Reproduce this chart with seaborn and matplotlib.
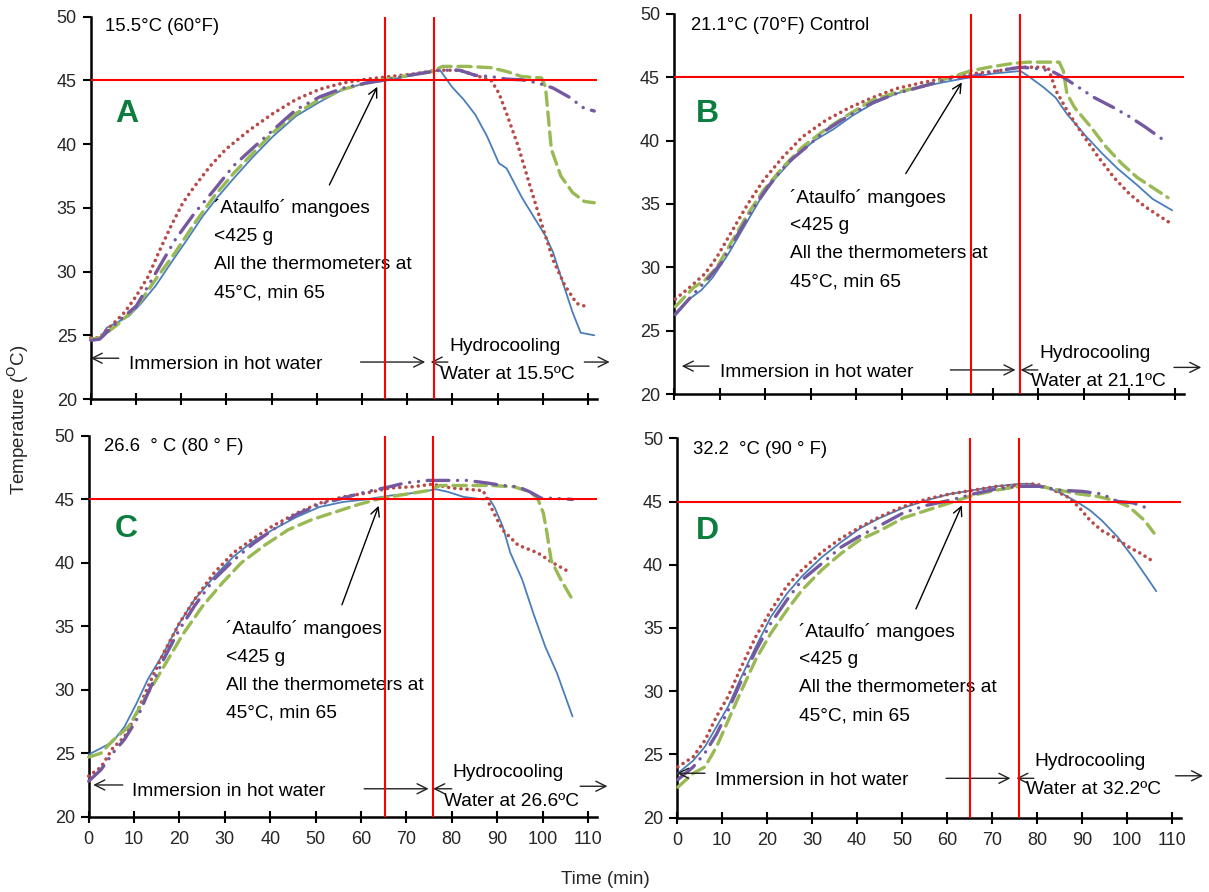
import matplotlib
matplotlib.use("Agg")
import matplotlib.pyplot as plt
import numpy as np
import pandas as pd
import seaborn as sns

# ---------------- data ----------------
A_BLUE_X = [0, 1.9, 3.6, 5.8, 8.4, 10.9, 14.4, 17.8, 21.3, 24.7, 28.2, 31.6, 35.9, 40.3, 45.4, 50.6, 55.8, 61, 65.5, 70.4, 75.6, 77.3, 79.9, 82.5, 85.1, 87.7, 90.3, 92, 95.4, 98, 100.6, 102.3, 104, 106.6, 108.4, 111.4]
A_BLUE_Y = [24.7, 24.7, 25.6, 26.0, 26.5, 27.4, 28.9, 30.7, 32.5, 34.3, 35.9, 37.3, 39.0, 40.6, 42.2, 43.3, 44.3, 44.8, 45.0, 45.35, 45.7, 45.8, 44.5, 43.5, 42.3, 40.6, 38.5, 38.1, 35.8, 34.3, 32.8, 31.5, 29.6, 26.8, 25.2, 25.0]
A_RED_X = [0, 1.9, 4.1, 7.5, 10.1, 12.7, 15.3, 17.8, 20.4, 23, 26.5, 29.9, 35.1, 40.3, 45.4, 50.6, 55.8, 61, 66.1, 71.3, 76.5, 81.6, 85.1, 88.6, 90.3, 92, 94.6, 97.2, 99.7, 102.3, 104.9, 107.5, 110]
A_RED_Y = [24.8, 24.8, 25.6, 26.8, 28.1, 29.6, 31.7, 33.6, 35.4, 36.7, 38.3, 39.6, 41.1, 42.4, 43.5, 44.3, 44.8, 45.1, 45.3, 45.5, 45.8, 45.8, 45.4, 45.0, 44.0, 42.4, 39.8, 36.7, 33.8, 30.9, 28.9, 27.5, 27.2]
A_GREEN_X = [0, 2, 5.8, 10.1, 14.4, 18.7, 23, 27.3, 31.6, 35.9, 40.3, 45.4, 50.6, 55.8, 61, 65.5, 70.4, 75.6, 77.8, 83.4, 88.5, 92, 95.4, 99.7, 100.6, 101, 101.9, 104, 106.6, 109.2, 111.4]
A_GREEN_Y = [24.7, 24.8, 25.8, 27.2, 29.4, 31.5, 33.8, 35.9, 37.7, 39.3, 40.9, 42.4, 43.5, 44.3, 44.8, 45.1, 45.4, 45.7, 46.1, 46.1, 46.0, 45.7, 45.3, 45.2, 44.5, 43.0, 39.6, 37.5, 36.2, 35.5, 35.4]
A_PURPLE_X = [0, 2, 5.8, 10.1, 14.4, 18.7, 23, 27.3, 31.6, 35.9, 40.3, 45.4, 50.6, 55.8, 61, 65.5, 70.4, 75.6, 77.3, 81.6, 85.1, 88.6, 92, 95.4, 98.9, 102.3, 105.8, 109.2, 111.4]
A_PURPLE_Y = [24.6, 24.7, 26.0, 27.3, 29.9, 32.5, 34.6, 36.4, 38.3, 39.7, 41.1, 42.7, 43.7, 44.4, 44.8, 45.05, 45.4, 45.7, 45.8, 45.8, 45.4, 45.3, 45.1, 45.05, 44.8, 44.4, 43.7, 42.8, 42.6]

B_BLUE_X = [0.3, 3.4, 6, 8.5, 12, 15.4, 18.8, 22.2, 26.5, 30.8, 35, 39.3, 43.6, 48.7, 53.8, 59, 65, 70.1, 76.1, 77.8, 81.2, 83.8, 86.3, 90.6, 94, 97.4, 101.7, 105.1, 109.4]
B_BLUE_Y = [26.2, 27.5, 28.2, 29.2, 31.1, 33.2, 35.3, 37.0, 38.7, 40.0, 40.9, 42.0, 42.9, 43.7, 44.2, 44.6, 45.0, 45.3, 45.5, 45.1, 44.2, 43.4, 42.1, 40.3, 39.0, 37.8, 36.5, 35.4, 34.5]
B_RED_X = [0.3, 3.4, 6.8, 9.4, 12.8, 16.2, 19.7, 23.9, 28.2, 33.3, 38.5, 43.6, 48.7, 54.7, 60.7, 65.8, 70.9, 76.1, 82.1, 83, 83.8, 86.3, 89.7, 93.2, 96.6, 100, 103.4, 106.8, 109.4]
B_RED_Y = [27.5, 28.4, 29.5, 30.8, 32.9, 35.0, 36.9, 38.7, 40.3, 41.6, 42.6, 43.4, 44.1, 44.6, 45.0, 45.3, 45.5, 45.8, 45.8, 44.9, 44.0, 42.4, 40.5, 38.7, 37.1, 35.8, 34.8, 34.0, 33.4]
B_GREEN_X = [0.3, 4.3, 6.8, 9.4, 12.8, 16.2, 19.7, 23.9, 28.2, 33.3, 38.5, 43.6, 48.7, 54.7, 60.7, 65, 69.2, 74.4, 77.8, 84.6, 85.5, 86.3, 88, 91.5, 94.9, 98.3, 101.7, 105.1, 108.5]
B_GREEN_Y = [26.9, 28.4, 29.0, 30.0, 32.1, 34.2, 36.1, 37.9, 39.5, 40.9, 42.1, 43.2, 43.8, 44.3, 45.0, 45.5, 45.8, 46.1, 46.2, 46.2, 45.5, 43.7, 42.6, 41.1, 39.5, 38.2, 37.1, 36.3, 35.5]
B_PURPLE_X = [0.3, 4.3, 7.7, 10.3, 13.7, 17.1, 20.5, 24.8, 29.1, 33.3, 38.5, 43.6, 48.7, 54.7, 60.7, 65.8, 70.9, 76.1, 79.5, 82.9, 85.5, 88.9, 92.3, 96.6, 100, 103.4, 107.7]
B_PURPLE_Y = [26.3, 27.9, 29.2, 30.3, 32.4, 34.5, 36.3, 38.2, 39.5, 40.8, 42.0, 43.0, 43.7, 44.3, 44.9, 45.1, 45.5, 45.8, 45.7, 45.5, 45.0, 44.2, 43.4, 42.6, 41.9, 41.1, 40.0]

C_BLUE_X = [0, 2.7, 5.3, 7.9, 10.5, 13, 16.5, 19.9, 23.3, 27.6, 31.9, 36.2, 40.5, 45.7, 50.8, 56, 61.1, 66.3, 71.4, 76.6, 79.1, 82.6, 86.9, 88.2, 89.4, 91.2, 92.9, 95.5, 98, 100.6, 103.2, 106.6]
C_BLUE_Y = [24.9, 25.4, 25.9, 27.1, 28.9, 30.8, 32.9, 35.2, 37.1, 38.9, 40.5, 41.7, 42.6, 43.6, 44.4, 44.8, 45.0, 45.3, 45.5, 45.8, 45.6, 45.2, 45.0, 45.1, 44.4, 42.9, 40.8, 38.7, 36.0, 33.4, 31.3, 27.9]
C_RED_X = [0, 2.7, 5.3, 7.9, 10.5, 13, 16.5, 19.9, 23.3, 27.6, 31.9, 36.2, 40.5, 45.7, 50.8, 56, 61.1, 66.3, 71.4, 75.7, 80, 83.4, 86.9, 88.6, 91.2, 94.6, 98.9, 102.3, 105.8]
C_RED_Y = [23.2, 23.9, 25.4, 26.3, 28.1, 30.2, 32.9, 35.2, 37.1, 39.2, 40.8, 41.9, 42.9, 43.9, 44.7, 45.2, 45.5, 45.9, 46.0, 46.2, 45.9, 45.8, 45.7, 44.4, 42.6, 41.4, 40.8, 40.0, 39.3]
C_GREEN_X = [0, 2.7, 5.3, 8.8, 12.2, 16.5, 20.8, 25.1, 29.4, 33.6, 38.8, 43.9, 49.1, 54.2, 59.4, 64.5, 69.7, 74.8, 77.4, 83.4, 88.6, 93.7, 97.2, 98.9, 100.2, 101, 101.9, 104, 106.6]
C_GREEN_Y = [24.7, 25.0, 26.0, 27.1, 29.2, 31.8, 34.4, 36.6, 38.4, 40.0, 41.4, 42.6, 43.4, 44.0, 44.6, 45.1, 45.4, 45.7, 46.1, 46.1, 46.1, 46.0, 45.6, 45.1, 43.9, 42.3, 40.2, 38.7, 37.1]
C_PURPLE_X = [0, 2.7, 5.3, 7.9, 10.5, 13, 16.5, 19.9, 23.3, 27.6, 31.9, 36.2, 40.5, 45.7, 50.8, 56, 61.1, 66.3, 69.7, 74.8, 80, 83.4, 87.7, 91.2, 94.6, 97.2, 99.7, 102.3, 106.6]
C_PURPLE_Y = [22.8, 23.7, 25.0, 26.1, 27.6, 29.7, 32.4, 34.7, 36.6, 38.7, 40.2, 41.5, 42.6, 43.8, 44.6, 45.1, 45.6, 46.0, 46.3, 46.5, 46.5, 46.5, 46.3, 46.1, 46.0, 45.6, 45.1, 45.1, 45.0]

D_BLUE_X = [0.2, 3.6, 6.2, 8.8, 11.4, 14, 17.5, 20.9, 24.4, 27.8, 32.2, 36.5, 40.8, 45.1, 50.3, 55.5, 60.7, 65.9, 71, 76.2, 78.8, 82.3, 85.7, 89.2, 91.8, 94.4, 97.9, 101.3, 104.8, 106.5]
D_BLUE_Y = [23.5, 24.5, 25.6, 27.2, 28.8, 30.9, 33.5, 35.9, 37.7, 39.1, 40.6, 41.8, 42.9, 43.7, 44.5, 45.1, 45.6, 45.9, 46.2, 46.4, 46.4, 46.1, 45.6, 44.9, 44.3, 43.5, 42.2, 40.6, 38.8, 37.9]
D_RED_X = [0.2, 3.6, 6.2, 8.8, 11.4, 14, 17.5, 20.9, 24.4, 27.8, 32.2, 36.5, 40.8, 45.1, 50.3, 55.5, 60.7, 65.9, 71, 76.2, 79.7, 83.1, 86.6, 89.2, 91.8, 94.4, 97, 100.4, 103, 105.2]
D_RED_Y = [24.0, 24.8, 26.1, 28.0, 29.6, 31.7, 34.3, 36.4, 38.3, 39.6, 41.0, 42.1, 43.0, 43.8, 44.6, 45.2, 45.6, 45.9, 46.2, 46.3, 46.4, 46.0, 45.4, 44.6, 43.5, 42.7, 42.2, 41.4, 40.9, 40.4]
D_GREEN_X = [0.2, 3.6, 6.2, 8.8, 11.4, 14, 17.5, 20.9, 24.4, 27.8, 32.2, 36.5, 40.8, 45.1, 50.3, 55.5, 60.7, 65.9, 71, 76.2, 80.6, 84.9, 89.2, 93.5, 97, 100.4, 103.9, 106]
D_GREEN_Y = [22.4, 23.5, 24.0, 25.6, 27.7, 29.8, 32.5, 34.6, 36.4, 38.0, 39.6, 40.9, 42.0, 42.7, 43.7, 44.3, 44.9, 45.5, 45.9, 46.2, 46.2, 45.9, 45.6, 45.4, 45.1, 44.6, 43.5, 42.5]
D_PURPLE_X = [0.2, 3.6, 6.2, 8.8, 11.4, 14, 17.5, 20.9, 24.4, 27.8, 32.2, 36.5, 40.8, 45.1, 50.3, 55.5, 60.7, 65.9, 71, 76.2, 80.6, 84.9, 90, 94.4, 97.9, 101.3, 104.3]
D_PURPLE_Y = [23.0, 24.0, 25.1, 26.6, 28.5, 30.6, 33.2, 35.4, 37.2, 38.8, 40.1, 41.4, 42.3, 43.1, 44.1, 44.7, 45.1, 45.6, 46.0, 46.2, 46.2, 45.9, 45.8, 45.6, 45.0, 44.9, 44.5]

PANEL_LETTERS = ["A", "B", "C", "D"]
PANEL_TITLES = ["15.5°C (60°F)", "21.1°C (70°F) Control", "26.6  ° C (80 ° F)", "32.2  °C (90 ° F)"]
WATER_LABELS = ["Water at 15.5ºC", "Water at 21.1ºC", "Water at 26.6ºC", "Water at 32.2ºC"]
NOTE_LINES = ["´Ataulfo´ mangoes", "<425 g", "All the thermometers at", "45°C, min 65"]
X_TICKS = [0, 10, 20, 30, 40, 50, 60, 70, 80, 90, 100, 110]
Y_TICKS = [20, 25, 30, 35, 40, 45, 50]
REF_TEMP = 45
REF_TIMES = [65.2, 75.9]

# ---------------- styling ----------------
sns.set_theme(style="white")
plt.rcParams['font.family'] = ['Liberation Sans', 'DejaVu Sans']

SERIES_STYLE = {
    "blue":   dict(color="#4A7EBB", lw=1.3, ls="-"),
    "red":    dict(color="#B84A47", lw=2.6, ls=(0, (0.01, 1.7))),
    "green":  dict(color="#98B954", lw=2.4, ls=(0, (4.0, 2.0))),
    "purple": dict(color="#7459A0", lw=2.4, ls=(0, (6.5, 2.6, 0.05, 2.6, 0.05, 2.6))),
}

panel_series = {
    "A": {"blue": (A_BLUE_X, A_BLUE_Y), "red": (A_RED_X, A_RED_Y), "green": (A_GREEN_X, A_GREEN_Y), "purple": (A_PURPLE_X, A_PURPLE_Y)},
    "B": {"blue": (B_BLUE_X, B_BLUE_Y), "red": (B_RED_X, B_RED_Y), "green": (B_GREEN_X, B_GREEN_Y), "purple": (B_PURPLE_X, B_PURPLE_Y)},
    "C": {"blue": (C_BLUE_X, C_BLUE_Y), "red": (C_RED_X, C_RED_Y), "green": (C_GREEN_X, C_GREEN_Y), "purple": (C_PURPLE_X, C_PURPLE_Y)},
    "D": {"blue": (D_BLUE_X, D_BLUE_Y), "red": (D_RED_X, D_RED_Y), "green": (D_GREEN_X, D_GREEN_Y), "purple": (D_PURPLE_X, D_PURPLE_Y)},
}

W, H = 1209, 892
# axes boxes in pixels: left, top, right(x=112), bottom(y=20)
BOXES = {
    "A": (90.7, 16.7, 597, 399),
    "B": (674, 14.0, 1184, 394),
    "C": (88.7, 436, 597, 816.7),
    "D": (677, 438.3, 1181, 817.5),
}
# per-panel annotation layout (data coords)
LAYOUT = {
    "A": dict(title=(3.2, 49.2), letter=(7.9, 42.4), note=(27.2, 35.0), arrow=((52.8, 36.8), (63.4, 44.5)),
              imm=(8.4, 22.7), larr=((6.2, 23.2), (0, 23.2)), rarr=((59.7, 22.9), (74.0, 22.9)),
              harr=((79.0, 22.9), (75.2, 22.9)), hydro=(79.3, 24.15), water=(77.3, 21.9), farr=((109.2, 22.9), (114.8, 22.9))),
    "B": dict(title=(3.8, 49.1), letter=(7.3, 42.1), note=(25.4, 35.5), arrow=((50.9, 37.4), (63.2, 44.6)),
              imm=(10.0, 21.7), larr=((7.7, 22.2), (1.7, 22.2)), rarr=((60.7, 21.9), (75.0, 21.9)),
              harr=((79.9, 21.9), (76.1, 21.9)), hydro=(80.3, 23.2), water=(78.5, 21.0), farr=((109.8, 22.1), (115.8, 22.1))),
    "C": dict(title=(3.4, 49.2), letter=(8.3, 42.7), note=(30.2, 34.8), arrow=((55.8, 36.7), (63.9, 44.5)),
              imm=(9.6, 22.0), larr=((7.5, 22.5), (1.0, 22.5)), rarr=((60.7, 22.2), (74.9, 22.2)),
              harr=((80.0, 22.2), (75.9, 22.2)), hydro=(80.2, 23.5), water=(78.3, 21.2), farr=((108.3, 22.4), (114.3, 22.4))),
    "D": dict(title=(3.5, 49.1), letter=(6.7, 42.7), note=(27.1, 34.7), arrow=((53.1, 36.5), (63.3, 44.7)),
              imm=(8.4, 22.9), larr=((6.2, 23.5), (0, 23.5)), rarr=((59.8, 23.1), (74.1, 23.1)),
              harr=((79.3, 23.1), (75.4, 23.1)), hydro=(79.5, 24.4), water=(77.5, 22.2), farr=((110.8, 23.3), (116.9, 23.3))),
}

FS = 13.8
fig = plt.figure(figsize=(W / 100, H / 100), dpi=100)

for i, key in enumerate(PANEL_LETTERS):
    l, t, r, b = BOXES[key]
    ax = fig.add_axes([l / W, 1 - b / H, (r - l) / W, (b - t) / H])
    ax.set_facecolor("white")
    for name in ["blue", "red", "green", "purple"]:
        xs, ys = panel_series[key][name]
        st = SERIES_STYLE[name]
        df = pd.DataFrame({"x": xs, "y": ys})
        sns.lineplot(data=df, x="x", y="y", ax=ax, color=st["color"], linewidth=st["lw"],
                     linestyle=st["ls"], sort=False, estimator=None, zorder=3,
                     dash_capstyle="round", solid_capstyle="round", clip_on=False)
    ax.axhline(REF_TEMP, color="#FF0000", lw=1.5, zorder=4)
    for tv in REF_TIMES:
        ax.axvline(tv, color="#FF0000", lw=1.5, zorder=4)

    ax.set_xlim(0, 112)
    ax.set_ylim(20, 50)
    ax.set_xticks(X_TICKS)
    ax.set_yticks(Y_TICKS)
    ax.set_xlabel("")
    ax.set_ylabel("")
    for s in ["top", "right"]:
        ax.spines[s].set_visible(False)
    for s in ["left", "bottom"]:
        ax.spines[s].set_color("black")
        ax.spines[s].set_linewidth(1.8)
    ax.tick_params(axis="x", direction="inout", length=9, width=1.5, color="black",
                   labelsize=13, labelcolor="#262626", pad=6, bottom=True)
    ax.tick_params(axis="y", direction="out", length=6, width=1.5, color="black",
                   labelsize=13, labelcolor="#262626", pad=4, left=True)
    if key in ("A", "B"):
        ax.set_xticklabels([])

    L = LAYOUT[key]
    ax.text(*L["title"], PANEL_TITLES[i], fontsize=FS - 0.5, ha="left", va="center", color="black")
    ax.text(*L["letter"], key, fontsize=23, fontweight="heavy", color="#0B7D3E", ha="center", va="center")
    nx, ny = L["note"]
    for j, line in enumerate(NOTE_LINES):
        ax.text(nx, ny - j * 2.22, line, fontsize=FS, ha="left", va="center", color="black")
    tail, head = L["arrow"]
    ax.annotate("", xy=head, xytext=tail,
                arrowprops=dict(arrowstyle="->", lw=1.0, color="black", mutation_scale=16, shrinkA=0, shrinkB=0))
    ax.text(*L["imm"], "Immersion in hot water", fontsize=FS, ha="left", va="center", color="black")
    ax.text(*L["hydro"], "Hydrocooling", fontsize=FS, ha="left", va="center", color="black")
    ax.text(*L["water"], WATER_LABELS[i], fontsize=FS, ha="left", va="center", color="black")
    for k in ["larr", "rarr", "harr", "farr"]:
        a0, a1 = L[k]
        ax.annotate("", xy=a1, xytext=a0, annotation_clip=False,
                    arrowprops=dict(arrowstyle="->", lw=1.0, color="#222222", mutation_scale=18, shrinkA=0, shrinkB=0))

fig.text(18 / W, 1 - 420 / H, "Temperature ($^{\\mathrm{O}}$C)", rotation=90, fontsize=13.5, ha="center", va="center")
fig.text(605 / W, 1 - 880 / H, "Time (min)", fontsize=13.5, ha="center", va="center")

fig.savefig("out.png", dpi=100, facecolor="white")
